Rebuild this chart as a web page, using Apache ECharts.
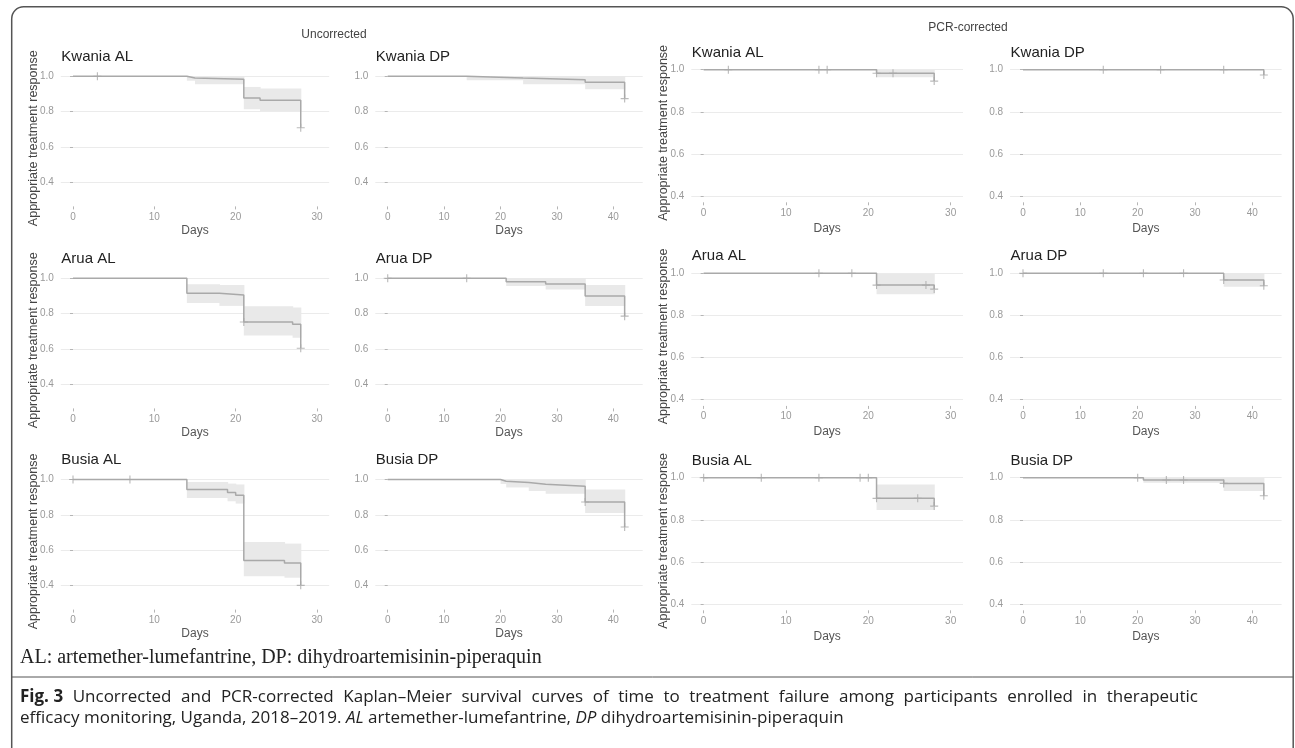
<!DOCTYPE html>
<html>
<head>
<meta charset="utf-8">
<script src="https://cdn.jsdelivr.net/npm/echarts@6/dist/echarts.min.js"></script>
<style>
html,body{margin:0;padding:0;background:#fff;}
#chart{width:1295px;height:748px;}
</style>
</head>
<body>
<div id="chart"></div>
<script>
// ---------- tick labels ----------
const xTicksAL = [0, 10, 20, 30];
const xTicksDP = [0, 10, 20, 30, 40];
const yTicks = [0.4, 0.6, 0.8, 1.0];

// ---------- group / panel titles ----------
const groupTitles = ['Uncorrected', 'PCR-corrected'];
const panelTitles = ['Kwania AL', 'Kwania DP', 'Arua AL', 'Arua DP', 'Busia AL', 'Busia DP'];

// ---------- Uncorrected: curves [day, survival], CI [from, to, lower, upper], censored [day, survival] ----------
const uKwaniaAL_curve = [[0,1],[14,0.99],[15,0.983],[21,0.878],[23,0.865],[28,0.709]];
const uKwaniaAL_ci    = [[14,15,0.975,1],[15,21,0.955,1],[21,23,0.814,0.94],[23,28,0.803,0.931]];
const uKwaniaAL_cens  = [[3,1],[28,0.709]];

const uKwaniaDP_curve = [[0,1],[14,0.99],[24,0.981],[35,0.966],[42,0.874]];
const uKwaniaDP_ci    = [[14,24,0.977,1],[24,35,0.955,1],[35,42,0.927,1]];
const uKwaniaDP_cens  = [[42,0.874]];

const uAruaAL_curve = [[0,1],[14,0.915],[18,0.905],[21,0.753],[27,0.74],[28,0.605]];
const uAruaAL_ci    = [[14,18,0.861,0.966],[18,21,0.844,0.962],[21,27,0.677,0.842],[27,28,0.664,0.835]];
const uAruaAL_cens  = [[21,0.753],[28,0.605]];

const uAruaDP_curve = [[0,1],[21,0.981],[28,0.968],[35,0.90],[42,0.786]];
const uAruaDP_ci    = [[21,28,0.956,1],[28,35,0.937,1],[35,42,0.843,0.962]];
const uAruaDP_cens  = [[0,1],[14,1],[42,0.786]];

const uBusiaAL_curve = [[0,1],[14,0.943],[19,0.926],[20,0.911],[21,0.543],[26,0.528],[28,0.402]];
const uBusiaAL_ci    = [[14,19,0.896,0.986],[19,20,0.877,0.977],[20,21,0.864,0.972],[21,26,0.453,0.647],[26,28,0.445,0.638]];
const uBusiaAL_cens  = [[0,1],[7,1],[28,0.402]];

const uBusiaDP_curve = [[0,1],[20,0.99],[21,0.983],[25,0.973],[28,0.962],[35,0.873],[42,0.732]];
const uBusiaDP_ci    = [[20,21,0.975,1],[21,25,0.955,1],[25,28,0.935,1],[28,35,0.92,1],[35,42,0.811,0.943]];
const uBusiaDP_cens  = [[35,0.873],[42,0.732]];

// ---------- PCR-corrected ----------
const pKwaniaAL_curve = [[0,1],[21,0.983],[28,0.946]];
const pKwaniaAL_ci    = [[21,28,0.964,1]];
const pKwaniaAL_cens  = [[3,1],[14,1],[15,1],[21,0.983],[23,0.983],[28,0.946]];

const pKwaniaDP_curve = [[0,1],[42,0.975]];
const pKwaniaDP_ci    = [];
const pKwaniaDP_cens  = [[14,1],[24,1],[35,1],[42,0.975]];

const pAruaAL_curve = [[0,1],[21,0.944],[28,0.925]];
const pAruaAL_ci    = [[21,28,0.90,0.997]];
const pAruaAL_cens  = [[14,1],[18,1],[21,0.944],[27,0.944],[28,0.925]];

const pAruaDP_curve = [[0,1],[35,0.968],[42,0.941]];
const pAruaDP_ci    = [[35,42,0.936,1]];
const pAruaDP_cens  = [[0,1],[14,1],[21,1],[28,1],[35,0.968],[42,0.941]];

const pBusiaAL_curve = [[0,1],[21,0.902],[28,0.865]];
const pBusiaAL_ci    = [[21,28,0.846,0.968]];
const pBusiaAL_cens  = [[0,1],[7,1],[14,1],[19,1],[20,1],[21,0.902],[26,0.902],[28,0.865]];

const pBusiaDP_curve = [[0,1],[21,0.989],[35,0.973],[42,0.914]];
const pBusiaDP_ci    = [[21,35,0.976,1],[35,42,0.937,1]];
const pBusiaDP_cens  = [[20,1],[25,0.989],[28,0.989],[35,0.973],[42,0.914]];

// ---------- captions ----------
const noteText = 'AL: artemether-lumefantrine, DP: dihydroartemisinin-piperaquin';
const captionBold = 'Fig. 3';
const captionLine1 = 'Uncorrected and PCR-corrected Kaplan\u2013Meier survival curves of time to treatment failure among participants enrolled in therapeutic';
const captionLine2 = 'efficacy monitoring, Uganda, 2018\u20132019. {i|AL} artemether-lumefantrine, {i|DP} dihydroartemisinin-piperaquin';

// ---------- layout ----------
const FONT = '"Liberation Sans", Arial, sans-serif';
const LINE = '#a9a9a9';
const BAND = '#e9e9e9';
const GRIDC = '#ebebeb';
const PLUS = 'path://M4.3,0h1.4v4.3h4.3v1.4h-4.3v4.3h-1.4v-4.3h-4.3v-1.4h4.3z';

const groups = [
  { rowsY1: [76.3, 278.3, 479.5], scale: 177, ymin: 0.265, ymax: 1.035, nameGapX: 18.5, labelMargin: 5.5, titleDy: 19.5,
    cols: [ {left: 60.8, width: 268.4, xmin: -1.5, xmax: 31.5, ticks: xTicksAL},
            {left: 375.3, width: 267.4, xmin: -2.2, xmax: 45.2, ticks: xTicksDP} ],
    data: [
      [uKwaniaAL_curve, uKwaniaAL_ci, uKwaniaAL_cens], [uKwaniaDP_curve, uKwaniaDP_ci, uKwaniaDP_cens],
      [uAruaAL_curve, uAruaAL_ci, uAruaAL_cens], [uAruaDP_curve, uAruaDP_ci, uAruaDP_cens],
      [uBusiaAL_curve, uBusiaAL_ci, uBusiaAL_cens], [uBusiaDP_curve, uBusiaDP_ci, uBusiaDP_cens]
    ] },
  { rowsY1: [69.7, 273.3, 477.7], scale: 210.5, ymin: 0.37, ymax: 1.03, nameGapX: 20, labelMargin: 5.5, titleDy: 17,
    cols: [ {left: 691.3, width: 271.7, xmin: -1.5, xmax: 31.5, ticks: xTicksAL},
            {left: 1010.1, width: 271.5, xmin: -2.25, xmax: 45.1, ticks: xTicksDP} ],
    data: [
      [pKwaniaAL_curve, pKwaniaAL_ci, pKwaniaAL_cens], [pKwaniaDP_curve, pKwaniaDP_ci, pKwaniaDP_cens],
      [pAruaAL_curve, pAruaAL_ci, pAruaAL_cens], [pAruaDP_curve, pAruaDP_ci, pAruaDP_cens],
      [pBusiaAL_curve, pBusiaAL_ci, pBusiaAL_cens], [pBusiaDP_curve, pBusiaDP_ci, pBusiaDP_cens]
    ] }
];

const grid = [], xAxis = [], yAxis = [], series = [], graphic = [];
let idx = 0;
groups.forEach(function (g) {
  for (let r = 0; r < 3; r++) {
    for (let c = 0; c < 2; c++) {
      const col = g.cols[c];
      const y1 = g.rowsY1[r];
      const top = y1 - (g.ymax - 1) * g.scale;
      const height = (g.ymax - g.ymin) * g.scale;
      grid.push({ left: col.left, top: top, width: col.width, height: height, containLabel: false });
      xAxis.push({
        type: 'value', gridIndex: idx, min: col.xmin, max: col.xmax,
        axisLine: { show: false },
        axisTick: { show: true, length: 3, customValues: col.ticks, lineStyle: { color: '#b5b5b5' } },
        axisLabel: { customValues: col.ticks, fontSize: 10, color: '#9a9a9a', margin: g.labelMargin, fontFamily: FONT },
        splitLine: { show: false },
        name: 'Days', nameLocation: 'middle', nameGap: g.nameGapX, nameMoveOverlap: false,
        nameTextStyle: { fontSize: 12, color: '#555', fontFamily: FONT }
      });
      const ya = {
        type: 'value', gridIndex: idx, min: g.ymin, max: g.ymax,
        axisLine: { show: false },
        axisTick: { show: true, length: 3, customValues: yTicks, lineStyle: { color: '#b5b5b5' } },
        axisLabel: { customValues: yTicks, fontSize: 10, color: '#9a9a9a', margin: 7, fontFamily: FONT,
                     formatter: function (v) { return v.toFixed(1); } },
        splitLine: { show: true, lineStyle: { color: GRIDC, width: 1 } }
      };
      if (c === 0) {
        ya.name = 'Appropriate treatment response';
        ya.nameLocation = 'middle';
        ya.nameGap = 21;
        ya.nameMoveOverlap = false;
        ya.nameTextStyle = { fontSize: 12.5, color: '#444', fontFamily: FONT };
      }
      yAxis.push(ya);
      const d = g.data[r * 2 + c];
      series.push({
        type: 'custom', xAxisIndex: idx, yAxisIndex: idx, data: d[1], silent: true, z: 1,
        encode: { x: [0, 1], y: [2, 3] },
        renderItem: function (params, api) {
          const p0 = api.coord([api.value(0), api.value(3)]);
          const p1 = api.coord([api.value(1), api.value(2)]);
          return { type: 'rect', shape: { x: p0[0], y: p0[1], width: p1[0] - p0[0] + 0.6, height: p1[1] - p0[1] },
                   style: { fill: BAND } };
        }
      });
      series.push({
        type: 'line', xAxisIndex: idx, yAxisIndex: idx, data: d[0], step: 'end', symbol: 'none', silent: true, z: 3,
        lineStyle: { color: LINE, width: 1.5 }
      });
      series.push({
        type: 'scatter', xAxisIndex: idx, yAxisIndex: idx, data: d[2], symbol: PLUS, symbolSize: 8, silent: true, z: 4,
        itemStyle: { color: LINE }
      });
      graphic.push({
        type: 'text', x: col.left + 0.5, y: y1 - g.titleDy, silent: true,
        style: { text: panelTitles[r * 2 + c], fill: '#222', font: '15px ' + FONT, align: 'left', verticalAlign: 'middle' }
      });
      idx++;
    }
  }
});

// group headers
graphic.push({ type: 'text', x: 334, y: 35, silent: true,
  style: { text: groupTitles[0], fill: '#444', font: '12px ' + FONT, align: 'center', verticalAlign: 'middle' } });
graphic.push({ type: 'text', x: 968, y: 28, silent: true,
  style: { text: groupTitles[1], fill: '#444', font: '12px ' + FONT, align: 'center', verticalAlign: 'middle' } });

// frame and separator
graphic.push({ type: 'rect', silent: true, z: -1,
  shape: { x: 11.7, y: 6.7, width: 1281.5, height: 800, r: 12 },
  style: { fill: 'none', stroke: '#555', lineWidth: 1.5 } });
graphic.push({ type: 'line', silent: true,
  shape: { x1: 11.7, y1: 677, x2: 1293.2, y2: 677 },
  style: { stroke: '#555', lineWidth: 1 } });

// note under the panels
graphic.push({ type: 'text', x: 20, y: 658, silent: true,
  style: { text: noteText, fill: '#222', font: '20px "Liberation Serif", "Times New Roman", serif', align: 'left', verticalAlign: 'middle' } });

// caption: first line justified between x=20 and x=1198
const capFamily = '"Open Sans", sans-serif';
const capSize = 17;
const capNormal = capSize + 'px ' + capFamily;
const capBold = 'bold ' + capSize + 'px ' + capFamily;
const mctx = document.createElement('canvas').getContext('2d');
function tw(t, f) { mctx.font = f; return mctx.measureText(t).width; }
const words = [{ t: captionBold, f: capBold }].concat(captionLine1.split(' ').map(function (w) { return { t: w, f: capNormal }; }));
const lineLeft = 20, lineRight = 1198;
let totalW = 0;
words.forEach(function (w) { w.w = tw(w.t, w.f); totalW += w.w; });
const gap = (lineRight - lineLeft - totalW) / (words.length - 1);
let cx = lineLeft;
words.forEach(function (w) {
  graphic.push({ type: 'text', x: cx, y: 697, silent: true,
    style: { text: w.t, fill: '#222', font: w.f, align: 'left', verticalAlign: 'middle' } });
  cx += w.w + gap;
});
graphic.push({ type: 'text', x: 20, y: 718, silent: true,
  style: { text: captionLine2, fill: '#222', fontSize: capSize, fontFamily: capFamily, align: 'left', verticalAlign: 'middle',
    rich: { i: { fontStyle: 'italic', fontSize: capSize, fontFamily: capFamily, fill: '#222' } } } });

const chart = echarts.init(document.getElementById('chart'), null, { renderer: 'canvas' });
chart.setOption({
  animation: false,
  backgroundColor: '#fff',
  textStyle: { fontFamily: FONT },
  grid: grid, xAxis: xAxis, yAxis: yAxis, series: series, graphic: graphic
});
</script>
</body>
</html>
